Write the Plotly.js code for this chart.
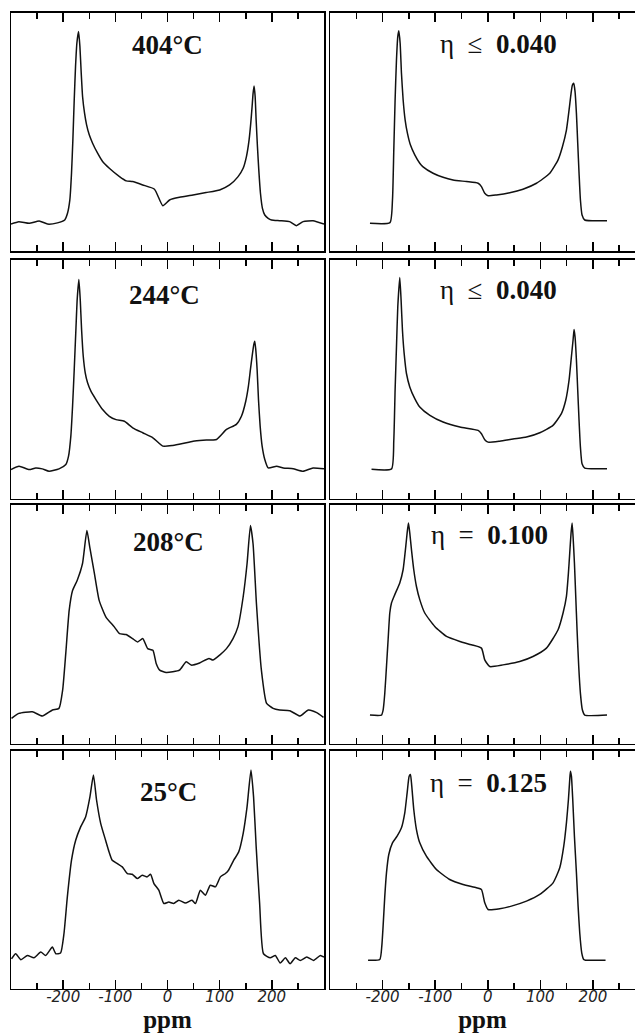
<!DOCTYPE html>
<html>
<head>
<meta charset="utf-8">
<script src="https://cdn.plot.ly/plotly-3.0.1.min.js"></script>
<style>html,body{margin:0;padding:0;background:#fff;}#chart{width:635px;height:1034px;}</style>
</head>
<body>
<div id="chart"></div>
<script>
// ---------- data (ppm, relative intensity 0-100 of panel height) ----------
const ppm404 = [-300,-285,-265,-246,-230,-211,-197,-191.7,-187.2,-184,-181.4,-178.8,-176.3,-173.7,-170.5,-167.9,-165.4,-162.8,-159,-155.1,-150,-143.6,-134,-124.4,-111.5,-92,-79,-67,-47.5,-25,-9,4,23,49,74,100,119,135.3,145,151.3,156.4,159.6,162.2,164.1,166,168,169.9,172.4,175,178.2,182,186.5,193,199.4,215,234,247,260,279,300];
const int404 = [11.3,12.3,11.6,12.6,11.3,11.8,13.0,15.8,21.4,32.6,46.6,63.4,77.3,87.2,92,85.7,74.6,64.8,57.8,52.9,48.7,45.2,41,37.5,34.7,31.2,29.4,29.1,27.7,25.9,19,21.4,22.5,23.5,24.5,25.6,27.7,31.2,34.7,39.6,46.6,53.6,60.6,66.2,69.2,64.8,55,43.8,34,24.2,17.9,15.1,13.7,13,12.7,12.3,10.6,12.3,12.7,11.3];

const ppm244 = [-300,-284.6,-265,-252.6,-240,-227,-208,-194.9,-189.7,-185.3,-182,-178.8,-175.6,-173.1,-169.9,-167.3,-164.7,-161.5,-157.7,-153.2,-146.8,-137.2,-124.4,-111.5,-98.6,-82.7,-66.7,-47.5,-28,-9,10,29,49,68,94,113,132,141.7,150,155.1,159,162.2,165.4,167.3,169.2,171.8,174.4,177.6,181.4,186.5,193,209,222,241,260,279,300];
const int244 = [12.1,13.5,12.1,12.8,12.4,11.4,12.4,14.2,17.7,26.1,38.6,54,70.7,83.3,91.6,83.3,70.7,59.5,52.6,48.4,44.9,41.4,37.2,34.4,33,32.3,29.6,27.5,25.4,21.9,22.2,23,24,24.4,24.7,28.9,31,34.4,40.7,47,54,59.5,64.4,65.8,62.3,54,41.4,30.3,21.9,16.3,12.8,13.5,12.8,12.4,11.4,12.8,12.4];

const ppm208 = [-299,-285,-259,-240,-220.5,-208,-201,-195,-188.5,-182,-173,-163,-154.5,-149,-140,-131,-118,-102,-92,-79.5,-67,-57,-47.5,-38,-28,-21.7,-15,-2.5,10,23,36,45.6,61.5,79.5,87,100,113,125.6,135,145,152.5,159,164,170.5,180,190,202.5,215,234.6,254,270,286,299];
const int208 = [10.5,12.6,13.3,11.5,14,14.7,22.3,37.7,55.7,64,68.3,75.2,89.1,82.2,71,59.9,52.9,48.8,46,45.6,43.9,42.5,43.9,39.7,39,33.5,30.7,29.7,30,30.7,34.2,32.8,33.7,35.6,34.9,37,39.7,43.9,48.8,61.3,75.2,91.2,83.6,58.5,30.7,16.8,14.7,14,13.7,11.5,14,12.9,10.9];

const ppm25 = [-299,-291,-281,-268.5,-256,-243,-233.5,-220.7,-214,-205,-198.5,-192,-184,-176,-166.5,-157,-148.7,-142,-136,-128,-118.7,-112,-106,-96,-86.7,-77,-67.6,-58,-48.4,-38.9,-32.5,-26,-16.7,-7,2.5,12,21.6,34.4,47,53.6,63,72.7,82,92,101.4,111,117,127,136.5,145,152.5,160,165,170,176.6,184,197,206.7,216,226,235,245,254.5,267,280,293,300];
const int25 = [12.5,14.6,12.1,13.9,12.9,15.3,13.9,17.4,14.6,14.9,23,38.5,53.9,62.3,67.9,72.1,80.5,89.7,79.2,69.3,62.3,57.4,53.9,52.5,51.1,48.3,48,46.2,47.6,46.9,48,44.1,41.3,35.7,36.3,35.7,37.1,35.9,37.1,35.7,41.3,39.2,43.4,42.7,46.9,48.3,49.7,53.9,57.4,65.1,76.3,91.8,80.5,59.5,35.7,14.6,12.9,13.9,10.7,12.9,10.4,12.9,11.8,13.2,11.8,13.9,13.2];

const ppmSimA = [-224,-186,-181.2,-178.7,-176.2,-173.6,-171.1,-169.2,-166.6,-164.1,-160.9,-157.1,-152.7,-147,-138.8,-129.3,-123,-104,-85,-66,-40.5,-18.4,-12,-5.7,0.6,16.5,41.8,67,92.6,118,133.7,142,149.6,154.6,158.4,161,163.5,166,168.6,171.1,173.6,176.2,179.3,184.4,226.8];
const intSimA = [11.6,11.9,21.4,42.3,63.3,80.1,89.9,92.4,87.1,74.5,63.3,54.9,49.3,44.4,40.3,36.8,35.3,32.6,30.9,29.8,29.1,28.4,27,24.2,23.2,23.5,24.4,25.9,28.4,32.6,38.2,43.7,50.7,59.1,66.1,69.6,70.3,66.8,57.7,45.2,32.6,21.4,15.1,13,12.7];

const ppmSimB = [-221,-183,-178.7,-176.2,-173.6,-171.1,-167.3,-164.8,-162.2,-159,-154.6,-148.3,-138.8,-129.3,-110,-85,-53,-18.4,-12,-5.7,0.6,22.8,48,73.6,98.9,124,140,148.3,154.6,159,162.2,164.1,166,168.6,171.1,173.6,176.2,179.3,184.4,226.8];
const intSimB = [12.2,12.4,24.3,45.3,63.4,80.2,92.5,83,70.4,60.7,52.3,46.7,41.8,38.3,34.8,32,29.9,28.5,27.1,24.6,23.6,24,24.9,25.7,27.5,30.6,35.5,41.1,49.5,59.2,66.2,70.7,67.6,57.9,45.3,32.7,21.5,14.5,12.7,12.5];

const ppmSimC = [-224,-202.2,-199,-195.8,-192.6,-189.5,-186.3,-183.1,-176.8,-167.3,-161,-155.9,-153.3,-150.8,-148.3,-145.1,-140.7,-135.6,-129.3,-119.8,-100.8,-78.5,-53,-31,-12,-5.7,3.8,29,60.8,86,111.6,133.7,143.2,149.6,153.4,155.9,158.4,160.4,162.2,164.8,167.3,169.8,173,176.2,180,184.4,226.8];
const intSimC = [11.9,11.9,14,21,32.2,43.4,54.6,58.8,62.3,67.2,72.7,82.5,88.1,92.3,88.1,81.1,72.7,65.7,60.2,54.6,49,44.8,42.7,41.3,39.9,35,32.2,32.9,34.3,36.4,39.9,47.6,54.6,61.6,71.4,79.7,88.1,92.3,86.7,75.6,61.6,47.6,32.2,21,14,11.9,11.9];

const ppmSimD = [-227.6,-205.3,-201.5,-199,-195.8,-192.6,-188.2,-181.2,-172.4,-164.1,-157.8,-153.3,-149.5,-147,-144.5,-140.7,-135.6,-129.3,-116.7,-97.6,-72.4,-47,-21.7,-12,-5.7,0.6,22.8,45,73.6,98.9,124.2,136.9,144.5,149.6,153.4,155.9,157.2,159.1,161.6,164.8,168.6,171.8,174.9,178.7,182.5,186,224];
const intSimD = [11.9,12.2,17.8,26.2,38.8,48.6,56.3,61.2,64,67.5,73.8,82.2,89.2,89.9,85,75.2,66.8,61.2,55.6,50,45.8,43.7,42.3,41.6,36,33.2,33.5,34.6,36.7,39.5,44.4,50.7,59.8,69.6,79.4,87.8,91.3,89.2,79.4,64,48.6,34.6,23.4,15,12.2,11.9,11.9];

const panelLabels = ['404°C','244°C','208°C','25°C'];
const etaRelations = ['≤','≤','=','='];
const etaValues = ['0.040','0.040','0.100','0.125'];
const tickVals = [-200,-100,0,100,200];
const tickText = ['-200','-100','0','100','200'];
const axisTitle = 'ppm';

// ---------- layout geometry ----------
const W = 635, H = 1034;
const leftDom = [11/W, 324/W];
const rightDom = [330/W, 1];
const rowsPx = [[12.5,251],[259.5,498.5],[504.5,743.5],[750.5,988.5]];
const rowDom = rowsPx.map(r => [1 - r[1]/H, 1 - r[0]/H]);

const expData = [[ppm404,int404],[ppm244,int244],[ppm208,int208],[ppm25,int25]];
const simData = [[ppmSimA,intSimA],[ppmSimB,intSimB],[ppmSimC,intSimC],[ppmSimD,intSimD]];
const labelPos = [[0,86.4],[-5,85],[1,84.3],[1,82.6]];
const etaPos = [[20,86.6],[20,87.2],[4,87.2],[2,86.4]];

const traces = [];
const layout = {
  width: W, height: H,
  margin: {l:0, r:0, t:0, b:0},
  paper_bgcolor: '#fff', plot_bgcolor: 'rgba(0,0,0,0)',
  showlegend: false,
  annotations: []
};

function xAxis(dom, range, bottom, anchor) {
  return {
    domain: dom, range: range, anchor: anchor,
    showgrid: false, zeroline: false,
    showline: true, linecolor: '#000', linewidth: 1.5, mirror: 'allticks',
    tickmode: 'array', tickvals: tickVals, ticktext: tickText,
    ticks: 'inside', ticklen: 9, tickwidth: 1.6, tickcolor: '#000',
    showticklabels: bottom, ticklabelstandoff: -6,
    tickfont: {family: 'DejaVu Sans', size: 15, style: 'italic', color: '#222'},
    minor: {tickmode: 'linear', tick0: 0, dtick: 50, ticks: 'inside', ticklen: 6, tickwidth: 1.5, tickcolor: '#000', showgrid: false},
    title: bottom ? {text: axisTitle, font: {family: 'Liberation Serif', size: 25, weight: 'bold', color: '#111'}, standoff: 3} : {text: ''},
    fixedrange: true
  };
}
function yAxis(dom, anchor, mirror) {
  return {
    domain: dom, range: [0, 100], anchor: anchor,
    showgrid: false, zeroline: false,
    showline: true, linecolor: '#000', linewidth: 1.5, mirror: mirror,
    ticks: '', showticklabels: false, fixedrange: true
  };
}

for (let r = 0; r < 4; r++) {
  const bottom = (r === 3);
  const iL = 2*r + 1, iR = 2*r + 2;
  const xn = 'x' + iL, yn = 'y' + iL, xr = 'x' + iR, yr = 'y' + iR;
  layout['xaxis' + iL] = xAxis(leftDom, [-300, 300], bottom, yn);
  layout['yaxis' + iL] = yAxis(rowDom[r], xn, true);
  layout['xaxis' + iR] = xAxis(rightDom, [-300, 280], bottom, yr);
  layout['yaxis' + iR] = yAxis(rowDom[r], xr, false);

  traces.push({x: expData[r][0], y: expData[r][1], xaxis: xn, yaxis: yn, type: 'scatter', mode: 'lines',
    line: {color: '#111', width: 1.5, shape: 'spline', smoothing: 0.5}, hoverinfo: 'skip'});
  traces.push({x: simData[r][0], y: simData[r][1], xaxis: xr, yaxis: yr, type: 'scatter', mode: 'lines',
    line: {color: '#111', width: 1.5, shape: 'spline', smoothing: 0.5}, hoverinfo: 'skip'});

  layout.annotations.push({xref: xn, yref: yn, x: labelPos[r][0], y: labelPos[r][1], showarrow: false,
    text: panelLabels[r], xanchor: 'center', yanchor: 'middle',
    font: {family: 'Liberation Serif', size: 27, weight: 'bold', color: '#111'}});
  layout.annotations.push({xref: xr, yref: yr, x: etaPos[r][0], y: etaPos[r][1], showarrow: false,
    text: 'η\u00A0\u00A0' + etaRelations[r] + '\u00A0\u00A0<b>' + etaValues[r] + '</b>', xanchor: 'center', yanchor: 'middle',
    font: {family: 'Liberation Serif', size: 27, color: '#111'}});
}

Plotly.newPlot('chart', traces, layout, {staticPlot: true, displayModeBar: false});
</script>
</body>
</html>
